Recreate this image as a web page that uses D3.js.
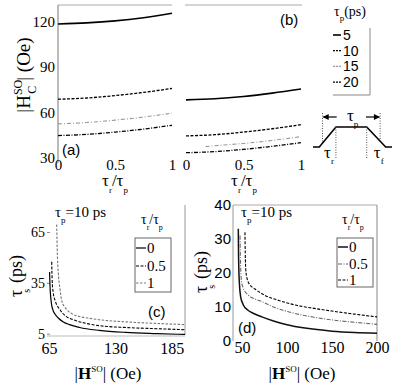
<!DOCTYPE html>
<html>
<head>
<meta charset="utf-8">
<script src="https://cdn.jsdelivr.net/npm/d3@7"></script>
<style>
  body { margin: 0; background: #fff; }
  svg { display: block; }
</style>
</head>
<body>
<div class="svgWrapper"></div>
<script>
// Data //
// panels (a) and (b): |H_C^SO| vs tau_r/tau_p for tau_p = 5, 10, 15, 20 ps
const ratioX = [0, 0.25, 0.5, 0.75, 1];
const pulseLabels = ["5", "10", "15", "20"];
const panelA = [
  [118.5, 119.2, 120.5, 122.6, 125.5],
  [68.8, 69.6, 71.2, 73.3, 75.9],
  [52.5, 53.4, 55.0, 57.0, 59.6],
  [44.8, 45.6, 47.1, 49.1, 51.6]
];
const panelB = [
  [68.4, 69.1, 70.6, 72.8, 75.5],
  [44.6, 45.4, 47.1, 49.3, 52.0],
  [null, 38.1, 39.6, 41.6, 44.1],
  [33.5, 34.2, 35.7, 37.7, 40.1]
];
const panelBStart = [0.17, 37.5]; // the tau_p = 15 ps curve of (b) starts later
const yTicksA = [30, 60, 90, 120];
const xTicksAB = [0, 0.5, 1];

// panels (c) and (d): tau_s vs |H^SO| for tau_r/tau_p = 0, 0.5, 1
const ratioLabels = ["0", "0.5", "1"];
const panelC = [
  [[65.5, 42], [66, 33], [67, 25], [68.5, 20], [71, 17], [74, 14.8], [79, 12.5], [85, 10.9], [95, 9.2], [114, 7.5], [140, 6.3], [170, 5.6], [198, 5.1]],
  [[67.6, 48], [68, 38], [69, 30], [71, 25], [75.7, 19.7], [81, 16], [88.7, 13.8], [100, 11.8], [114, 10.3], [140, 9.2], [170, 8.5], [198, 7.9]],
  [[72.5, 70], [73, 55], [74, 42], [75.5, 33], [77.4, 25], [82, 20], [88.5, 17], [96, 15.5], [105, 14.6], [114, 13.8], [140, 12.5], [170, 11.6], [198, 10.9]]
];
const panelD = [
  [[45.9, 33], [46.1, 27], [46.5, 21], [47.2, 16.5], [48.5, 13], [51.5, 10.6], [56, 9.2], [63, 8.1], [72, 7.1], [85, 5.9], [100, 4.8], [120, 3.8], [150, 2.9], [175, 2.5], [200, 2.3]],
  [[47.8, 31], [48.1, 26], [48.6, 21], [49.5, 17.5], [51.5, 15.5], [57, 13.5], [64, 12.4], [72, 11.6], [85, 10], [109, 8.1], [130, 7], [150, 6.2], [175, 5.5], [200, 4.9]],
  [[53.3, 32], [53.6, 26], [54.2, 21], [55.5, 18.5], [58, 16.8], [64.4, 15.3], [75, 13.5], [90, 12], [109, 10.6], [130, 9.6], [150, 8.8], [175, 7.9], [200, 7.1]]
];
const xTicksC = [65, 130, 185];
const yTicksC = [5, 35, 65];
const xTicksD = [50, 100, 150, 200];
const yTicksD = [0, 10, 20, 30, 40];

// trapezoid pulse schematic (normalised time, amplitude)
const pulseShape = [[0, 0], [0.08, 0], [0.29, 1], [0.68, 1], [0.92, 0], [1, 0]];

// Styles //
const svgStyles = { w: 399, h: 385 };
const SERIF = '"Liberation Serif", "DejaVu Serif", serif';
const SANS = '"Liberation Sans", "DejaVu Sans", sans-serif';
const styleAB = [
  { color: "#000", dash: null, width: 1.6 },
  { color: "#000", dash: "3,1.5", width: 1.3 },
  { color: "#999", dash: "4,2,1,2", width: 1.1 },
  { color: "#000", dash: "4,1.5,1,1.5", width: 1.3 }
];
const styleC = [
  { color: "#000", dash: null, width: 1.2 },
  { color: "#000", dash: "3,1.5", width: 1.1 },
  { color: "#777", dash: "2.5,1.5", width: 1.1 }
];
const styleD = [
  { color: "#111", dash: null, width: 1.5 },
  { color: "#666", dash: "4,1.5,1,1.5", width: 1.1 },
  { color: "#000", dash: "3,1.5", width: 1.1 }
];

let svg = d3
  .select(".svgWrapper")
  .append("svg")
  .attr("width", svgStyles.w)
  .attr("height", svgStyles.h);

// Scales //
const xA = d3.scaleLinear().domain([0, 1]).range([58, 172]);
const xB = d3.scaleLinear().domain([0, 1]).range([186, 301]);
const yAB = d3.scaleLinear().domain([30, 131]).range([158, 5]);
const xC = d3.scaleLinear().domain([63, 198]).range([47, 185]);
const yC = d3.scaleLinear().domain([3, 81.5]).range([338, 205]);
const xD = d3.scaleLinear().domain([40, 200]).range([233, 377]);
const yD = d3.scaleLinear().domain([0, 40]).range([341, 205]);

function frameLine(x1, y1, x2, y2, color) {
  svg.append("line")
    .attr("x1", x1).attr("y1", y1).attr("x2", x2).attr("y2", y2)
    .attr("stroke", color).attr("stroke-width", 1);
}

function drawAxis(axis, tx, ty, family, fontSize) {
  const g = svg.append("g")
    .attr("transform", `translate(${tx}, ${ty})`)
    .call(axis.tickFormat(d3.format("")));
  g.attr("font-family", null).attr("font-size", null);
  g.select(".domain").remove();
  g.selectAll(".tick line").attr("stroke", "#888");
  g.selectAll(".tick text")
    .style("font-family", family)
    .style("font-size", fontSize + "px")
    .attr("fill", "#000");
  return g;
}

function style(path, s) {
  path.attr("fill", "none")
    .attr("stroke", s.color)
    .attr("stroke-width", s.width)
    .attr("stroke-dasharray", s.dash);
}

// Frames //
frameLine(58, 5, 58, 163, "#777");
frameLine(58, 5, 172, 5, "#aaa");
frameLine(185, 5, 302, 5, "#aaa");
frameLine(185, 335, 185, 205, "#999");
frameLine(47, 336, 185, 336, "#bbb");
frameLine(233, 205, 233, 341, "#999");
frameLine(233, 205, 377, 205, "#aaa");
frameLine(377, 205, 377, 341, "#888");

// Axes (a), (b) //
drawAxis(d3.axisLeft(yAB).tickValues(yTicksA).tickSize(0).tickPadding(3), 58, 0, SERIF, 15);
drawAxis(d3.axisBottom(xA).tickValues(xTicksAB).tickSize(0).tickPadding(1), 0, 158, SERIF, 15);
drawAxis(d3.axisBottom(xB).tickValues(xTicksAB).tickSize(0).tickPadding(1), 0, 158, SERIF, 15);

// Axes (c), (d) //
drawAxis(d3.axisLeft(yC).tickValues(yTicksC).tickSize(3).tickPadding(2), 50, -1, SERIF, 14);
drawAxis(d3.axisBottom(xC).tickValues(xTicksC).tickSize(0).tickPadding(7), 0, 336, SERIF, 16);
drawAxis(d3.axisLeft(yD).tickValues(yTicksD).tickSize(0).tickPadding(2), 233, 0, SANS, 15);
drawAxis(d3.axisBottom(xD).tickValues(xTicksD).tickSize(0).tickPadding(4), 0, 338, SERIF, 16);

// Curves //
const lineA = d3.line()
  .x(d => xA(d[0])).y(d => yAB(d[1]))
  .curve(d3.curveMonotoneX);
const lineB = d3.line()
  .x(d => xB(d[0])).y(d => yAB(d[1]))
  .curve(d3.curveMonotoneX);

panelA.forEach((vals, i) => {
  style(svg.append("path").attr("d", lineA(ratioX.map((r, j) => [r, vals[j]]))), styleAB[i]);
});
panelB.forEach((vals, i) => {
  let pts = ratioX.map((r, j) => [r, vals[j]]).filter(p => p[1] !== null);
  if (vals[0] === null) pts = [panelBStart].concat(pts);
  style(svg.append("path").attr("d", lineB(pts)), styleAB[i]);
});

const lineC = d3.line().x(d => xC(d[0])).y(d => yC(d[1])).curve(d3.curveMonotoneX);
const lineD = d3.line().x(d => xD(d[0])).y(d => yD(d[1])).curve(d3.curveMonotoneX);
panelC.forEach((pts, i) => style(svg.append("path").attr("d", lineC(pts)), styleC[i]));
panelD.forEach((pts, i) => style(svg.append("path").attr("d", lineD(pts)), styleD[i]));

// Panel letters //
[["(a)", 62, 155], ["(b)", 280, 25], ["(c)", 148, 317], ["(d)", 238, 333]].forEach(p => {
  svg.append("text").style("font-family", SANS).attr("x", p[1]).attr("y", p[2])
    .style("font-size", "15px").text(p[0]);
});

// tau_r / tau_p titles
function ratioTitle(cx, y, size, subSize, drop, anchor) {
  const t = svg.append("text").style("font-family", SERIF)
    .attr("x", cx).attr("y", y).attr("text-anchor", anchor)
    .style("font-size", size + "px");
  t.append("tspan").text("τ");
  t.append("tspan").attr("dy", drop).style("font-size", subSize + "px").text("r");
  t.append("tspan").attr("dy", -drop).text("/τ");
  t.append("tspan").attr("dy", drop).style("font-size", subSize + "px").text("p");
  return t;
}
ratioTitle(115, 186, 17, 9, 7, "middle");
ratioTitle(244, 186, 17, 9, 7, "middle");

// y title (a)
const yTitleA = svg.append("text").style("font-family", SERIF)
  .attr("transform", "translate(30, 75) rotate(-90)")
  .attr("text-anchor", "middle")
  .style("font-size", "19px");
yTitleA.append("tspan").text("|H");
yTitleA.append("tspan").attr("dy", -8).style("font-size", "12px").text("SO");
yTitleA.append("tspan").attr("dx", -14).attr("dy", 14).style("font-size", "12px").text("C");
yTitleA.append("tspan").attr("dx", 5).attr("dy", -6).text("| (Oe)");

// tau_s titles (c), (d)
function tauTitle(x, y) {
  const t = svg.append("text").style("font-family", SERIF)
    .attr("transform", `translate(${x}, ${y}) rotate(-90)`)
    .attr("text-anchor", "middle")
    .style("font-size", "18px");
  t.append("tspan").text("τ");
  t.append("tspan").attr("dx", -3).attr("dy", 8).style("font-size", "10px").text("s");
  t.append("tspan").attr("dx", 6).attr("dy", -8).text("(ps)");
}
tauTitle(22, 276);
tauTitle(207, 272);

// |H^SO| (Oe) titles
function hTitle(cx) {
  const t = svg.append("text").style("font-family", SERIF)
    .attr("x", cx).attr("y", 379).attr("text-anchor", "middle")
    .style("font-size", "17px");
  t.append("tspan").text("|");
  t.append("tspan").style("font-weight", "bold").text("H");
  t.append("tspan").attr("dy", -7).style("font-size", "9px").text("SO");
  t.append("tspan").attr("dy", 7).text("|  (Oe)");
}
hTitle(108);
hTitle(302);

// tau_p = 10 ps notes
function tauNote(x, y) {
  const t = svg.append("text").style("font-family", SERIF)
    .attr("x", x).attr("y", y).style("font-size", "15px");
  t.append("tspan").text("τ");
  t.append("tspan").attr("dy", 6).style("font-size", "9px").text("p");
  t.append("tspan").attr("dy", -6).text("=10 ps");
}
tauNote(55, 217);
tauNote(241, 217);

// Legend (b) //
const legB = svg.append("g");
const tb = legB.append("text").style("font-family", SERIF).attr("x", 334).attr("y", 16)
  .style("font-size", "14px");
tb.append("tspan").text("τ");
tb.append("tspan").attr("dy", 5).style("font-size", "9px").text("p");
tb.append("tspan").attr("dy", -5).text("(ps)");
frameLine(370, 28, 370, 95, "#888");
frameLine(333, 95, 370, 95, "#888");
pulseLabels.forEach((lab, i) => {
  const y = 35 + i * 15.7;
  style(legB.append("line").attr("x1", 333).attr("x2", 341).attr("y1", y).attr("y2", y),
    Object.assign({}, styleAB[i], { dash: styleAB[i].dash ? "2,1" : null }));
  legB.append("text").style("font-family", SANS).attr("x", 343).attr("y", y + 5)
    .style("font-size", "14px").text(lab);
});

// Legends (c), (d) //
function ratioLegend(x, y, w, h, rows, styles, titleX) {
  ratioTitle(titleX, y - 14, 14, 8, 6, "start");
  const g = svg.append("g");
  g.append("rect").attr("x", x).attr("y", y).attr("width", w).attr("height", h)
    .attr("fill", "#fff").attr("stroke", "#666").attr("stroke-width", 1);
  ratioLabels.forEach((lab, i) => {
    style(g.append("line").attr("x1", x + 1).attr("x2", x + 11)
      .attr("y1", rows[i]).attr("y2", rows[i]), styles[i]);
    g.append("text").style("font-family", SERIF).attr("x", x + 12).attr("y", rows[i] + 5)
      .style("font-size", "15px").text(lab);
  });
}
ratioLegend(135, 238, 36, 54, [248, 266, 283], styleC, 141);
ratioLegend(337, 238, 36, 49, [247, 264, 280], styleD, 342);

// Pulse schematic //
const px = d3.scaleLinear().domain([0, 1]).range([313, 392]);
const py = d3.scaleLinear().domain([0, 1]).range([147, 127]);
svg.append("path")
  .attr("d", d3.line().x(d => px(d[0])).y(d => py(d[1]))(pulseShape))
  .attr("fill", "none").attr("stroke", "#000").attr("stroke-width", 1.6);

const guides = [[0.12, 1.7, 0.2], [0.29, 1, -0.6], [0.68, 1, -0.6], [0.85, 1.7, 0.3]];
guides.forEach(g => {
  svg.append("line")
    .attr("x1", px(g[0])).attr("x2", px(g[0]))
    .attr("y1", py(g[1])).attr("y2", py(g[2]))
    .attr("stroke", "#555").attr("stroke-width", 1).attr("stroke-dasharray", "1,1.5");
});

svg.append("defs").append("marker")
  .attr("id", "arrow").attr("viewBox", "0 0 10 10")
  .attr("refX", 9).attr("refY", 5)
  .attr("markerWidth", 6).attr("markerHeight", 5)
  .attr("orient", "auto-start-reverse")
  .append("path").attr("d", "M0,0 L10,5 L0,10 z").attr("fill", "#000");

svg.append("line")
  .attr("x1", px(0.3)).attr("x2", px(0.13)).attr("y1", py(1.5)).attr("y2", py(1.5))
  .attr("stroke", "#000").attr("stroke-width", 1.2).attr("marker-end", "url(#arrow)");
svg.append("line")
  .attr("x1", px(0.67)).attr("x2", px(0.84)).attr("y1", py(1.5)).attr("y2", py(1.5))
  .attr("stroke", "#000").attr("stroke-width", 1.2).attr("marker-end", "url(#arrow)");

function tauSym(x, y, sub) {
  const t = svg.append("text").style("font-family", SERIF).attr("x", x).attr("y", y)
    .style("font-size", "17px");
  t.append("tspan").text("τ");
  t.append("tspan").attr("dy", 6).style("font-size", "9px").text(sub);
}
tauSym(px(0.43), 121, "p");
tauSym(px(0.14), 158, "r");
tauSym(px(0.77), 158, "f");
</script>
</body>
</html>
